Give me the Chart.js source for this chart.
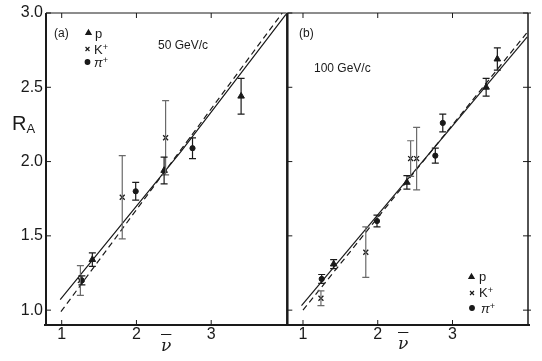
<!DOCTYPE html>
<html><head><meta charset="utf-8">
<script src="https://cdn.jsdelivr.net/npm/chart.js@4.4.0/dist/chart.umd.min.js"></script>
<style>
html,body{margin:0;padding:0;background:#fff;}
#wrap{position:relative;width:542px;height:361px;overflow:hidden;font-family:"Liberation Sans",Arial,sans-serif;color:#1a1a1a;background:#fff;}
canvas{position:absolute;top:0;}
.t{position:absolute;white-space:nowrap;line-height:1;}
sup{font-size:70%;vertical-align:0.45em;line-height:0;}
sub{font-size:65%;vertical-align:-0.25em;line-height:0;}
.nu{font-family:"DejaVu Serif",serif;font-style:italic;font-size:17px;text-decoration:overline;}
</style></head><body>
<div id="wrap">
<canvas id="ca" width="292" height="361" style="left:0"></canvas>
<canvas id="cb" width="260" height="361" style="left:282px"></canvas>
<div class="t" style="left:54px;top:27px;font-size:12px">(a)</div>
<div class="t" style="left:158px;top:39px;font-size:12px">50 GeV/c</div>
<div class="t" style="left:95px;top:27px;font-size:13px">p</div>
<div class="t" style="left:94px;top:43px;font-size:13px">K<sup>+</sup></div>
<div class="t" style="left:94px;top:56px;font-size:13px;font-style:italic">π<sup style="font-style:normal">+</sup></div>
<div class="t" style="left:299px;top:27px;font-size:12px">(b)</div>
<div class="t" style="left:314px;top:62px;font-size:12px">100 GeV/c</div>
<div class="t" style="left:479px;top:270px;font-size:13px">p</div>
<div class="t" style="left:479px;top:286px;font-size:13px">K<sup>+</sup></div>
<div class="t" style="left:481px;top:302px;font-size:13px;font-style:italic">π<sup style="font-style:normal">+</sup></div>
<div class="t" style="left:12px;top:113px;font-size:20px">R<sub>A</sub></div>
<div class="t nu" style="left:161px;top:337px">ν</div>
<div class="t nu" style="left:398px;top:335px">ν</div>
</div>
<script>
// ---- tick labels ----
const xTickValues = [1, 2, 3];
const yTickValues = [1.0, 1.5, 2.0, 2.5, 3.0];

// ---- panel (a): 50 GeV/c ----
const a_p_nu  = [1.41, 2.37, 3.40];
const a_p_R   = [1.34, 1.94, 2.44];
const a_p_err = [0.045, 0.09, 0.12];
const a_K_nu  = [1.25, 1.81, 2.39];
const a_K_R   = [1.20, 1.76, 2.16];
const a_K_err = [0.10, 0.28, 0.25];
const a_pi_nu  = [1.27, 1.99, 2.75];
const a_pi_R   = [1.20, 1.80, 2.09];
const a_pi_err = [0.03, 0.06, 0.07];
const a_solid_nu = [0.98, 2.60, 4.00];
const a_solid_R  = [1.07, 2.07, 2.99];
const a_dash_nu  = [0.99, 3.95];
const a_dash_R   = [0.99, 3.00];

// ---- panel (b): 100 GeV/c ----
const b_p_nu  = [1.41, 2.39, 3.45, 3.60];
const b_p_R   = [1.31, 1.86, 2.50, 2.69];
const b_p_err = [0.03, 0.045, 0.06, 0.075];
const b_K_nu  = [1.24, 1.84, 2.44, 2.52];
const b_K_R   = [1.08, 1.39, 2.02, 2.02];
const b_K_err = [0.05, 0.17, 0.12, 0.21];
const b_pi_nu  = [1.25, 1.99, 2.77, 2.87];
const b_pi_R   = [1.21, 1.60, 2.04, 2.26];
const b_pi_err = [0.03, 0.04, 0.05, 0.06];
const b_solid_nu = [0.98, 4.00];
const b_solid_R  = [1.03, 2.84];
const b_dash_nu  = [1.00, 4.00];
const b_dash_R   = [1.00, 2.87];

const xMin = 0.79, xMax = 4.01, yMin = 0.9, yMax = 3.0;
const INK = '#1a1a1a';

const pts = (xs, ys) => xs.map((x, i) => ({x, y: ys[i]}));

const errorBars = {
  id: 'errorBars',
  afterDatasetsDraw(chart) {
    const {ctx, scales: {x, y}} = chart;
    ctx.save();
    chart.data.datasets.forEach(ds => {
      if (!ds.errors) return;
      ctx.strokeStyle = ds.errColor || INK;
      ctx.lineWidth = 1.2;
      ds.data.forEach((p, i) => {
        const e = ds.errors[i];
        const px = x.getPixelForValue(p.x);
        const y1 = y.getPixelForValue(p.y + e);
        const y2 = y.getPixelForValue(p.y - e);
        ctx.beginPath();
        ctx.moveTo(px, y1); ctx.lineTo(px, y2);
        ctx.moveTo(px - 3.5, y1); ctx.lineTo(px + 3.5, y1);
        ctx.moveTo(px - 3.5, y2); ctx.lineTo(px + 3.5, y2);
        ctx.stroke();
      });
    });
    ctx.restore();
  }
};

const frame = {
  id: 'frame',
  afterDraw(chart, args, opts) {
    const {ctx, chartArea: a, scales: {x, y}} = chart;
    ctx.save();
    ctx.strokeStyle = INK;
    const line = (w, x1, y1, x2, y2) => { ctx.lineWidth = w; ctx.beginPath(); ctx.moveTo(x1, y1); ctx.lineTo(x2, y2); ctx.stroke(); };
    line(opts.top, a.left, a.top, a.right, a.top);
    line(opts.bottom, a.left - 2, a.bottom, a.right + 2, a.bottom);
    if (opts.left) line(opts.left, a.left, a.top, a.left, a.bottom);
    if (opts.right) line(opts.right, a.right, a.top, a.right, a.bottom);
    ctx.lineWidth = 1;
    xTickValues.forEach(v => {
      const px = x.getPixelForValue(v);
      line(1, px, a.bottom, px, a.bottom - 5);
      line(1, px, a.top, px, a.top + 5);
    });
    yTickValues.forEach(v => {
      const py = y.getPixelForValue(v);
      line(1, a.left, py, a.left + 5, py);
      if (opts.rightTicks) line(1, a.right - 5, py, a.right + 3, py);
    });
    // legend markers
    (opts.legend || []).forEach(m => {
      ctx.fillStyle = INK; ctx.strokeStyle = INK; ctx.lineWidth = 1.2;
      Chart.helpers.drawPoint(ctx, {pointStyle: m.style, radius: m.r, borderWidth: 1.2, rotation: 0}, m.x, m.y);
      if (m.style !== 'crossRot') ctx.fill();
    });
    ctx.restore();
  }
};

function makeChart(id, d, showY, pad, frameOpts) {
  return new Chart(document.getElementById(id), {
    type: 'scatter',
    data: {
      datasets: [
        {type: 'line', data: pts(d.sn, d.sR), borderColor: INK, borderWidth: 1.2, pointRadius: 0, fill: false, tension: 0},
        {type: 'line', data: pts(d.dn, d.dR), borderColor: INK, borderWidth: 1.2, borderDash: [6, 4], pointRadius: 0, fill: false},
        {data: pts(d.kn, d.kR), errors: d.ke, errColor: '#6a6a6a', pointStyle: 'crossRot', pointRadius: 3.5, borderColor: INK, borderWidth: 1.3, backgroundColor: INK},
        {data: pts(d.pn, d.pR), errors: d.pe, pointStyle: 'triangle', pointRadius: 3.8, borderColor: INK, backgroundColor: INK, borderWidth: 1},
        {data: pts(d.qn, d.qR), errors: d.qe, pointStyle: 'circle', pointRadius: 2.6, borderColor: INK, backgroundColor: INK, borderWidth: 1}
      ]
    },
    options: {
      responsive: false, animation: false, devicePixelRatio: 1,
      layout: {padding: pad},
      plugins: {legend: {display: false}, tooltip: {enabled: false}, frame: frameOpts},
      scales: {
        x: {
          type: 'linear', min: xMin, max: xMax,
          grid: {display: false, drawTicks: false}, border: {display: false},
          afterBuildTicks: s => { s.ticks = xTickValues.map(v => ({value: v})); },
          afterFit: s => { s.height = 36; },
          ticks: {padding: 0, color: INK, font: {family: 'Liberation Sans', size: 16}, callback: v => String(v)}
        },
        y: {
          type: 'linear', min: yMin, max: yMax, display: showY ? true : false,
          grid: {display: false, drawTicks: false}, border: {display: false},
          afterBuildTicks: s => { s.ticks = yTickValues.map(v => ({value: v})); },
          afterFit: s => { s.width = showY ? 46 : 0; },
          ticks: {padding: 3, color: INK, font: {family: 'Liberation Sans', size: 16}, callback: v => v.toFixed(1)}
        }
      }
    },
    plugins: [errorBars, frame]
  });
}

makeChart('ca', {
  sn: a_solid_nu, sR: a_solid_R, dn: a_dash_nu, dR: a_dash_R,
  pn: a_p_nu, pR: a_p_R, pe: a_p_err, kn: a_K_nu, kR: a_K_R, ke: a_K_err, qn: a_pi_nu, qR: a_pi_R, qe: a_pi_err
}, true, {top: 13, right: 5, left: 0, bottom: 0},
{top: 1, bottom: 2, left: 2, right: 0, rightTicks: false,
 legend: [{style: 'triangle', r: 3.0, x: 88.5, y: 33}, {style: 'crossRot', r: 2.8, x: 87.5, y: 49}, {style: 'circle', r: 2.3, x: 87.5, y: 62}]});

makeChart('cb', {
  sn: b_solid_nu, sR: b_solid_R, dn: b_dash_nu, dR: b_dash_R,
  pn: b_p_nu, pR: b_p_R, pe: b_p_err, kn: b_K_nu, kR: b_K_R, ke: b_K_err, qn: b_pi_nu, qR: b_pi_R, qe: b_pi_err
}, false, {top: 13, right: 14, left: 5, bottom: 0},
{top: 1, bottom: 2, left: 2.5, right: 1.5, rightTicks: true,
 legend: [{style: 'triangle', r: 3.0, x: 189.5, y: 277}, {style: 'crossRot', r: 2.8, x: 190, y: 293}, {style: 'circle', r: 2.3, x: 190, y: 308}]});
</script>
</body></html>
